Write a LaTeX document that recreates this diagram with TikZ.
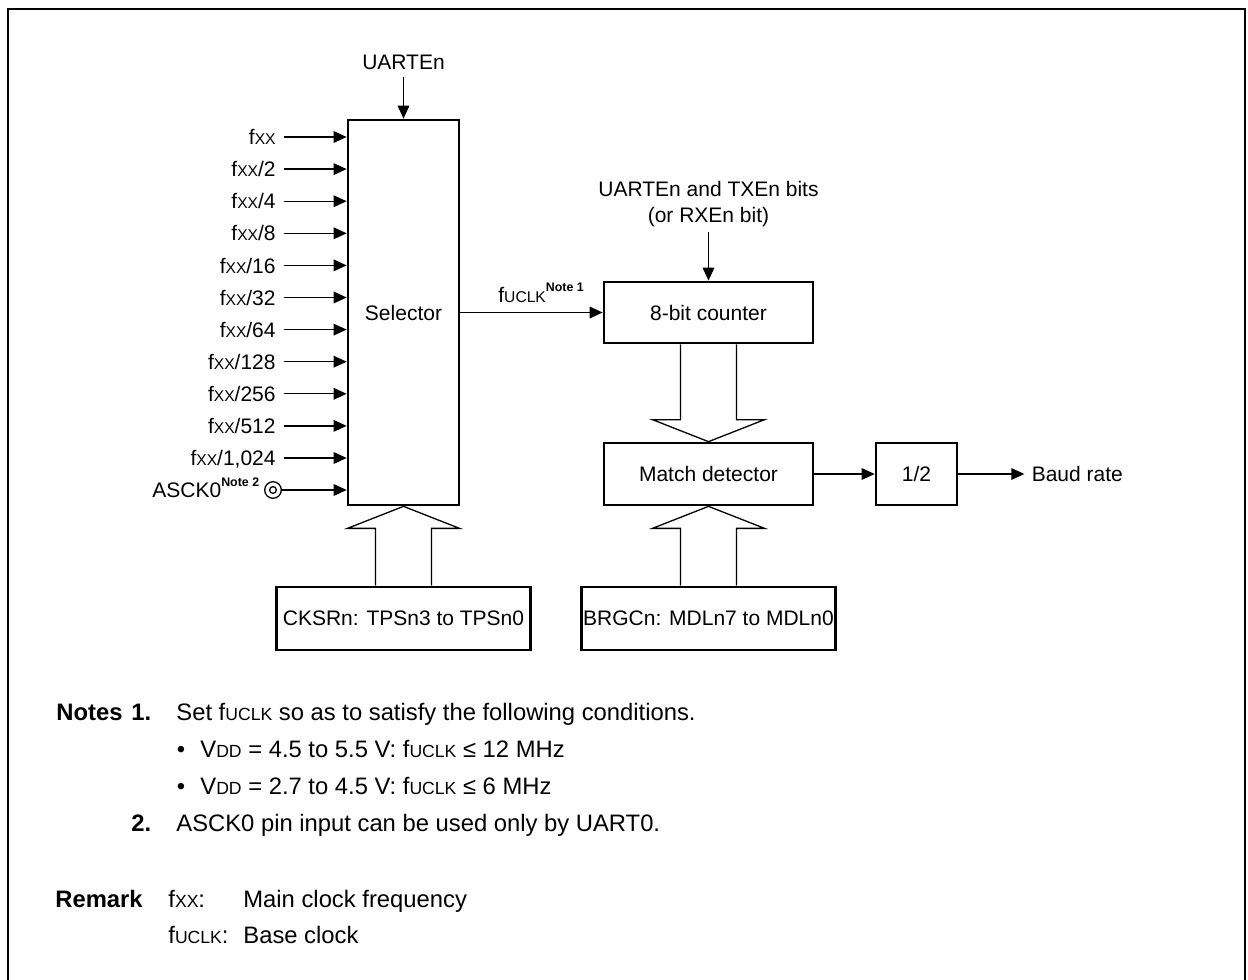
\documentclass[tikz,border=0pt]{standalone}
\usepackage{fontspec}
\setmainfont{Liberation Sans}
\usetikzlibrary{arrows.meta,positioning}

\newcommand{\sml}[1]{{\fontsize{7.8}{9}\selectfont #1}}
\newcommand{\nsml}[1]{{\fontsize{8.8}{10}\selectfont #1}}
\newcommand{\notemark}[1]{\raisebox{5.5pt}{\fontsize{6.2}{7}\selectfont\bfseries #1}}
% hollow bus arrow: #1 start anchor, #2 tip anchor, #3 = 1 (down) or -1 (up)
\newcommand{\fatarrow}[3]{%
  \draw[hollow] ([xshift=-14pt]#1) -- ([xshift=-14pt,yshift=#3*11pt]#2)
    -- ([xshift=-28pt,yshift=#3*11pt]#2) -- (#2)
    -- ([xshift=28pt,yshift=#3*11pt]#2) -- ([xshift=14pt,yshift=#3*11pt]#2)
    -- ([xshift=14pt]#1);}

\tikzset{
  blk/.style={draw, line width=1.35pt, inner sep=0pt, align=center},
  sig/.style={line width=0.65pt, -{Triangle[length=6.5pt,width=5.8pt]}},
  hollow/.style={line width=0.65pt, fill=white},
  inlbl/.style={inner sep=0pt, text height=7.6pt, text depth=0pt},
  txt/.style={inner sep=0pt, anchor=base west, font=\fontsize{11.9}{14}\selectfont}
}

\begin{document}
\begin{tikzpicture}[x=0.5pt,y=-0.5pt,font=\fontsize{10.5}{12.6}\selectfont]
\useasboundingbox (0,0) rectangle (1248,980);
\draw[line width=1.35pt] (8,980) -- (8,9) -- (1245,9) -- (1245,980);

% blocks
\node[blk, minimum width=55.5pt, minimum height=192.5pt] (sel) at (403.5,312.5) {Selector};
\node[blk, minimum width=104.5pt, minimum height=30.5pt] (cnt) at (708.5,312.5) {8-bit counter};
\node[blk, minimum width=104.5pt, minimum height=31pt] (mat) at (708.5,474) {Match detector};
\node[blk, minimum width=40.5pt, minimum height=31pt] (half) at (916.5,474) {1/2};
\node[blk, minimum width=127pt, minimum height=31.5pt] (brg) at (708.5,618.5) {BRGCn: MDLn7 to MDLn0};
\node[blk, minimum width=127pt, minimum height=31.5pt] (cks) at (403.5,618.5) {CKSRn: TPSn3 to TPSn0};

% clock inputs
\foreach \t [count=\i from 0] in {f\sml{XX}, f\sml{XX}/2, f\sml{XX}/4, f\sml{XX}/8, f\sml{XX}/16,
    f\sml{XX}/32, f\sml{XX}/64, f\sml{XX}/128, f\sml{XX}/256, f\sml{XX}/512, {f\sml{XX}/1,024}}{
  \node[inlbl, anchor=east] (in\i) at (276,{137+32.1*\i}) {\t};
  \draw[sig] ([xshift=4pt]in\i.east) -- (in\i.east -| sel.west);
}
\node[inlbl, anchor=west] (asck) at (152,490) {ASCK0\notemark{Note 2}};
\node[circle, draw, line width=0.65pt, minimum size=8.3pt, inner sep=0pt] (pin) at (273,490) {};
\draw[line width=0.65pt] (pin.center) circle (1.7pt);
\draw[sig] (pin.east) -- (pin.east -| sel.west);

% control inputs
\node[above=21pt of sel] (uen) {UARTEn};
\draw[sig] (uen.south) -- (sel.north);
\node[above=24.5pt of cnt, align=center, inner sep=2pt, font=\fontsize{10.5}{13}\selectfont] (en)
  {UARTEn and TXEn bits\\(or RXEn bit)};
\draw[sig] (en.south) -- (cnt.north);

% clock path
\draw[sig] (sel.east) -- (cnt.west);
\node[inner sep=0pt, anchor=base west] (fu) at (498,302) {f\sml{UCLK}\notemark{Note 1}};
\draw[sig] (mat) -- (half);
\node[right=33pt of half, inner xsep=3.5pt] (baud) {Baud rate};
\draw[sig] (half.east) -- (baud.west);

% bus arrows
\fatarrow{cnt.south}{mat.north}{1}
\fatarrow{brg.north}{mat.south}{-1}
\fatarrow{cks.north}{sel.south}{-1}

% notes
\node[txt] (nts) at (56,720) {\bfseries Notes};
\node[txt] (n1) at (131,720) {\bfseries 1.};
\node[txt] (n1t) at (176,720) {Set f\nsml{UCLK} so as to satisfy the following conditions.};
\node[txt, anchor=base] (b1) at (181,757) {\textbullet};
\node[txt] (b1t) at (200,757) {V\nsml{DD} = 4.5 to 5.5 V: f\nsml{UCLK} ≤ 12 MHz};
\node[txt, anchor=base] (b2) at (181,794) {\textbullet};
\node[txt] (b2t) at (200,794) {V\nsml{DD} = 2.7 to 4.5 V: f\nsml{UCLK} ≤ 6 MHz};
\node[txt] (n2) at (131,831) {\bfseries 2.};
\node[txt] (n2t) at (176,831) {ASCK0 pin input can be used only by UART0.};
\node[txt] (rem) at (55,907) {\bfseries Remark};
\node[txt] (r1) at (168,907) {f\nsml{XX}:};
\node[txt] (r1t) at (243,907) {Main clock frequency};
\node[txt] (r2) at (168,943) {f\nsml{UCLK}:};
\node[txt] (r2t) at (243,943) {Base clock};
\end{tikzpicture}
\end{document}
